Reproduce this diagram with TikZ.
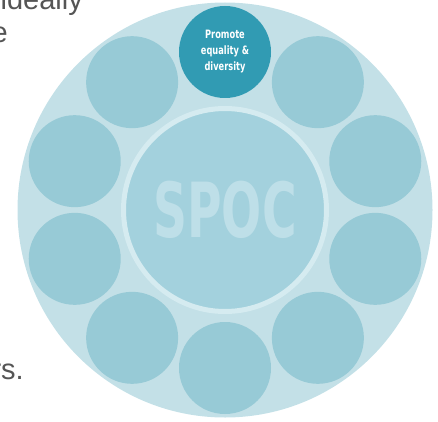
\documentclass[tikz,border=0pt]{standalone}
\usepackage{fontspec}
\setmainfont{Liberation Sans}
\newfontfamily\condfont[FakeStretch=0.8]{DejaVu Sans Condensed}
\newfontfamily\hubfont[FakeStretch=0.69]{DejaVu Sans Condensed}
\definecolor{discblue}{HTML}{C3E0E7}
\definecolor{petalblue}{HTML}{97CAD6}
\definecolor{hubblue}{HTML}{A3D1DD}
\definecolor{hubring}{HTML}{D5EBF0}
\definecolor{hubtext}{HTML}{BEDFE8}
\definecolor{keyblue}{HTML}{319BB3}
\definecolor{bodygray}{HTML}{555555}
\tikzset{
	petal/.style = {circle, fill=petalblue, minimum size=92pt, inner sep=0pt},
	keypetal/.style = {petal, fill=keyblue, text=white, align=center,
		font=\condfont\bfseries\fontsize{11.5}{16}\selectfont},
	hub/.style = {circle, fill=hubblue, draw=hubring, line width=5pt, minimum size=203pt,
		inner sep=0pt, text=hubtext, font=\hubfont\bfseries\fontsize{76}{76}\selectfont},
	bodytext/.style = {anchor=base east, inner sep=0pt, text=bodygray,
		font=\fontsize{29}{33}\selectfont}
}

\begin{document}
\begin{tikzpicture}[x=1pt, y=1pt]
	\useasboundingbox (0,0) rectangle (438,421);
	\clip (0,0) rectangle (438,421);
	\node[bodytext] (lineA) at (83,411) {ideally};
	\node[bodytext] (lineB) at (8,378) {e};
	\node[bodytext] (lineC) at (24,42) {rs.};
	\begin{scope}[shift={(225,211)}]
		\fill[discblue] (0,0) circle (207.5);
		\node[hub] (spoc) at (0,0) {SPOC};
		\node[keypetal] (p1) at (90:158) {Promote\\equality \&\\diversity};
		\foreach \a [count=\n from 2] in {126,162,...,414} {
			\node[petal] (p\n) at (\a:158) {};
		}
	\end{scope}
\end{tikzpicture}
\end{document}
